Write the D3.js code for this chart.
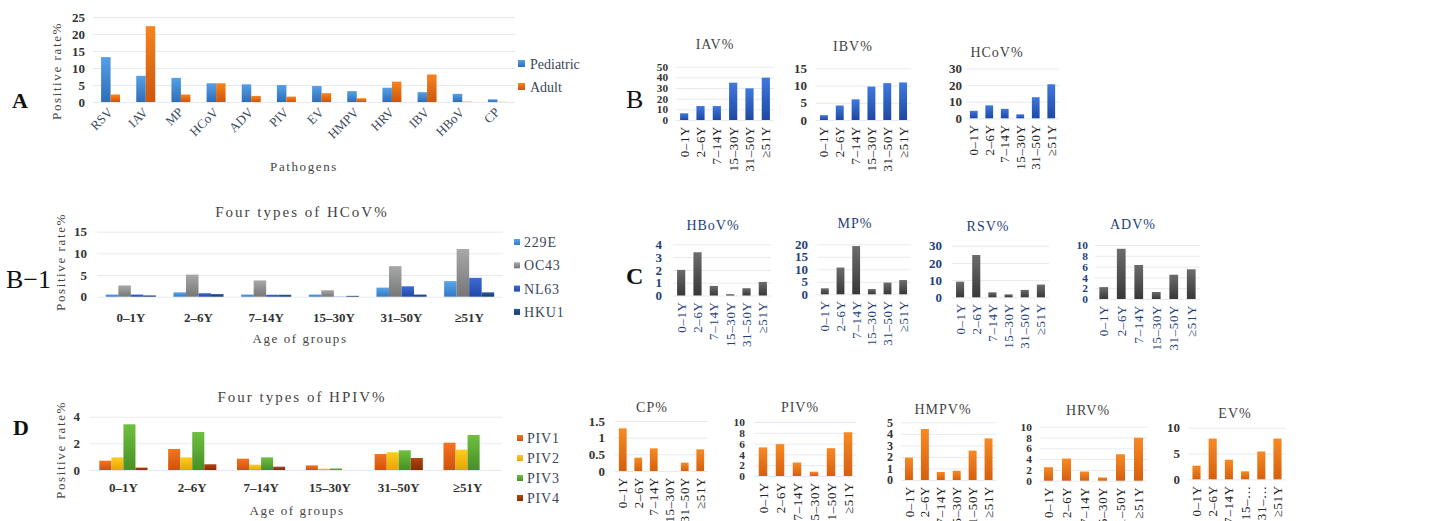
<!DOCTYPE html>
<html>
<head>
<meta charset="utf-8">
<script src="https://cdn.jsdelivr.net/npm/d3@7"></script>
<style>
  html, body { margin: 0; padding: 0; background: #fff; }
  svg { display: block; }
  text { font-family: "Liberation Serif", "DejaVu Serif", serif; }
</style>
</head>
<body>
<svg id="fig" width="1445" height="521"></svg>
<script>
// ---------- data ----------
const pathogens = ["RSV", "IAV", "MP", "HCoV", "ADV", "PIV", "EV", "HMPV", "HRV", "IBV", "HBoV", "CP"];
const pediatricRate = [13.2, 7.7, 7.1, 5.5, 5.2, 5.0, 4.7, 3.2, 4.2, 2.9, 2.4, 0.8];
const adultRate = [2.2, 22.3, 2.2, 5.5, 1.8, 1.6, 2.6, 1.1, 6.0, 8.1, 0.1, 0.05];
const rateTicksA = [0, 5, 10, 15, 20, 25];

const ageGroups = ["0–1Y", "2–6Y", "7–14Y", "15–30Y", "31–50Y", "≥51Y"];
const ageGroupsShort = ["0–1Y", "2–6Y", "7–14Y", "15–…", "31–…", "≥51Y"];

const hcovTypes = ["229E", "OC43", "NL63", "HKU1"];
const hcov229E = [0.5, 1.0, 0.5, 0.5, 2.1, 3.6];
const hcovOC43 = [2.6, 5.1, 3.75, 1.5, 7.05, 11.0];
const hcovNL63 = [0.5, 0.8, 0.45, 0.05, 2.4, 4.35];
const hcovHKU1 = [0.3, 0.6, 0.45, 0.2, 0.5, 1.0];
const hcovTypeTicks = [0, 5, 10, 15];

const hpivTypes = ["PIV1", "PIV2", "PIV3", "PIV4"];
const piv1 = [0.7, 1.58, 0.85, 0.35, 1.2, 2.05];
const piv2 = [0.95, 0.95, 0.4, 0.1, 1.33, 1.53];
const piv3 = [3.43, 2.85, 0.95, 0.12, 1.48, 2.63];
const piv4 = [0.18, 0.43, 0.25, 0, 0.9, 0];
const hpivTypeTicks = [0, 2, 4];

const iavByAge = [6.3, 13.1, 13.1, 35.0, 29.7, 39.7];
const ibvByAge = [1.4, 4.2, 6.0, 9.7, 10.7, 10.9];
const hcovByAge = [4.5, 7.8, 5.7, 2.4, 12.7, 20.5];
const hbovByAge = [2.0, 3.38, 0.75, 0.1, 0.57, 1.06];
const mpByAge = [2.4, 10.7, 19.3, 2.1, 4.7, 5.7];
const rsvByAge = [9.1, 24.6, 2.9, 1.7, 4.3, 7.4];
const advByAge = [2.2, 9.3, 6.3, 1.3, 4.5, 5.5];
const cpByAge = [1.28, 0.40, 0.68, 0, 0.25, 0.65];
const pivByAge = [5.3, 5.9, 2.5, 0.8, 5.15, 8.1];
const hmpvByAge = [1.94, 4.42, 0.7, 0.8, 2.55, 3.6];
const hrvByAge = [2.5, 4.1, 1.7, 0.6, 4.9, 7.96];
const evByAge = [2.65, 7.9, 3.8, 1.55, 5.4, 7.9];

const iavTicks = [0, 10, 20, 30, 40, 50];
const ibvTicks = [0, 5, 10, 15];
const hcovTicks = [0, 10, 20, 30];
const hbovTicks = [0, 1, 2, 3, 4];
const mpTicks = [0, 5, 10, 15, 20];
const rsvTicks = [0, 10, 20, 30];
const advTicks = [0, 2, 4, 6, 8, 10];
const cpTicks = [0, 0.5, 1, 1.5];
const pivTicks = [0, 2, 4, 6, 8, 10];
const hmpvTicks = [0, 1, 2, 3, 4, 5];
const hrvTicks = [0, 2, 4, 6, 8, 10];
const evTicks = [0, 5, 10];

// ---------- setup ----------
const svg = d3.select("#fig");
const defs = svg.append("defs");
const GRID = "#e6eaf0";

function gradient(id, top, bottom) {
  const g = defs.append("linearGradient").attr("id", id)
    .attr("x1", 0).attr("y1", 0).attr("x2", 0).attr("y2", 1);
  g.append("stop").attr("offset", "0%").attr("stop-color", top);
  g.append("stop").attr("offset", "100%").attr("stop-color", bottom);
  return `url(#${id})`;
}

const fills = {
  pediatric: gradient("gPed", "#55a0e8", "#2d6db6"),
  adult: gradient("gAdu", "#f7841f", "#cc560b"),
  e229: gradient("g229", "#5aa5ea", "#3279c6"),
  oc43: gradient("gOC", "#a8a8a8", "#767676"),
  nl63: gradient("gNL", "#3a6cd4", "#2248a8"),
  hku1: gradient("gHK", "#2a5b9e", "#15396e"),
  blue: gradient("gBlue", "#4078de", "#1d48a4"),
  gray: gradient("gGray", "#6c6c6c", "#383838"),
  orange: gradient("gOr", "#f68a24", "#d6600e"),
  piv1: gradient("gP1", "#f47422", "#d0520b"),
  piv2: gradient("gP2", "#ffcc22", "#e4a600"),
  piv3: gradient("gP3", "#70c040", "#469026"),
  piv4: gradient("gP4", "#b4450e", "#862c05")
};

function panelLetter(txt, x, y, opts = {}) {
  svg.append("text").attr("x", x).attr("y", y)
    .attr("font-size", opts.size || 24)
    .attr("font-weight", opts.weight || "normal")
    .attr("font-family", opts.family || null)
    .attr("fill", "#111").text(txt);
}

// y axis with gridlines drawn through d3.axisLeft
function yAxisGrid(g, y, ticks, x0, x1, labelRight, fmt, color) {
  const ax = d3.axisLeft(y).tickValues(ticks).tickSize(-(x1 - x0))
    .tickPadding(x0 - labelRight).tickFormat(fmt || d3.format("~g"));
  const a = g.append("g").attr("transform", `translate(${x0},0)`).call(ax);
  a.select(".domain").remove();
  a.selectAll(".tick line").attr("stroke", GRID).attr("stroke-width", 1);
  // keep crowded tick labels from running into each other
  const spacing = Math.abs(y(ticks[1]) - y(ticks[0]));
  const fs = Math.min(13, spacing + 0.6);
  a.selectAll(".tick text").attr("font-size", fs)
    .attr("font-family", "Liberation Serif").attr("font-weight", "bold").attr("fill", color);
}

// ---------- grouped bar chart ----------
function groupedChart(cfg) {
  const g = svg.append("g");
  const x = d3.scaleBand().domain(cfg.categories).range([cfg.x0, cfg.x1])
    .paddingInner(cfg.padIn).paddingOuter(cfg.padIn / 2);
  const xs = d3.scaleBand().domain(cfg.series.map(s => s.name)).range([0, x.bandwidth()]);
  const y = d3.scaleLinear().domain([0, cfg.max]).range([cfg.y0, cfg.yTop]);

  yAxisGrid(g, y, cfg.ticks, cfg.x0, cfg.x1, cfg.labelRight, null, "#333");

  cfg.series.forEach(s => {
    g.append("g").selectAll("rect").data(s.values).join("rect")
      .attr("x", (d, i) => x(cfg.categories[i]) + xs(s.name))
      .attr("width", xs.bandwidth())
      .attr("y", d => y(d))
      .attr("height", d => cfg.y0 - y(d))
      .attr("fill", s.fill);
  });

  // category labels
  const lab = g.append("g");
  cfg.categories.forEach(c => {
    const cx = x(c) + x.bandwidth() / 2;
    if (cfg.rotate) {
      lab.append("text")
        .attr("transform", `translate(${cx + 3},${cfg.y0 + 11}) rotate(-45)`)
        .attr("text-anchor", "end").attr("font-size", 13).attr("fill", "#3a4a5c")
        .text(c);
    } else {
      lab.append("text").attr("x", cx).attr("y", cfg.labelY)
        .attr("text-anchor", "middle").attr("font-size", 13).attr("font-weight", "bold")
        .attr("fill", "#333").text(c);
    }
  });

  // axis titles
  g.append("text")
    .attr("transform", `translate(${cfg.yTitleX},${cfg.yTitleY}) rotate(-90)`)
    .attr("text-anchor", "middle").attr("font-size", 13).attr("letter-spacing", 1.6)
    .attr("fill", "#444").text("Positive rate%");
  g.append("text").attr("x", cfg.xTitleX).attr("y", cfg.xTitleY)
    .attr("text-anchor", "middle").attr("font-size", 13).attr("letter-spacing", 1.6)
    .attr("fill", "#444").text(cfg.xTitle);
  if (cfg.title) {
    g.append("text").attr("x", cfg.titleX).attr("y", cfg.titleY)
      .attr("text-anchor", "middle").attr("font-size", 15).attr("letter-spacing", 2)
      .attr("fill", "#444").text(cfg.title);
  }

  // legend
  const leg = g.append("g");
  cfg.series.forEach((s, i) => {
    const ly = cfg.legY + i * cfg.legStep;
    leg.append("rect").attr("x", cfg.legX).attr("y", ly - cfg.legSq - 2)
      .attr("width", cfg.legSq).attr("height", cfg.legSq).attr("fill", s.fill);
    leg.append("text").attr("x", cfg.legX + cfg.legSq + cfg.legGap).attr("y", ly)
      .attr("font-size", cfg.legFont).attr("letter-spacing", cfg.legSpacing || 0)
      .attr("fill", "#3a4656").text(s.label || s.name);
  });
}

// ---------- small single-series chart ----------
function smallChart(cfg) {
  const g = svg.append("g");
  const x = d3.scaleBand().domain(d3.range(cfg.values.length)).range([cfg.x0, cfg.x1])
    .paddingInner(0.5).paddingOuter(0.25);
  const y = d3.scaleLinear().domain([0, cfg.max]).range([cfg.y0, cfg.yTop]);

  yAxisGrid(g, y, cfg.ticks, cfg.x0, cfg.x1, cfg.labelRight, cfg.fmt, cfg.tickColor);

  g.append("g").selectAll("rect").data(cfg.values).join("rect")
    .attr("x", (d, i) => x(i))
    .attr("width", x.bandwidth())
    .attr("y", d => y(d))
    .attr("height", d => cfg.y0 - y(d))
    .attr("fill", cfg.fill);

  g.append("g").selectAll("text").data(cfg.labels).join("text")
    .attr("transform", (d, i) => `translate(${x(i) + x.bandwidth() / 2},${cfg.y0 + 6}) rotate(-90)`)
    .attr("text-anchor", "end").attr("dy", "0.35em")
    .attr("font-size", 13).attr("letter-spacing", 0.6)
    .attr("fill", cfg.labelColor).text(d => d);

  g.append("text").attr("x", cfg.titleX).attr("y", cfg.titleY)
    .attr("text-anchor", "middle").attr("font-size", 14).attr("letter-spacing", 1)
    .attr("fill", cfg.titleColor).text(cfg.title);
}

// ---------- panel A ----------
panelLetter("A", 12, 108, { weight: "bold", size: 22 });
groupedChart({
  categories: pathogens,
  series: [
    { name: "Pediatric", values: pediatricRate, fill: fills.pediatric },
    { name: "Adult", values: adultRate, fill: fills.adult }
  ],
  x0: 93, x1: 515, padIn: 0.46, y0: 102, yTop: 17, max: 25, ticks: rateTicksA, labelRight: 85,
  rotate: true,
  yTitleX: 61, yTitleY: 71, xTitle: "Pathogens", xTitleX: 304, xTitleY: 171,
  legX: 518, legY: 69, legStep: 23, legSq: 7, legGap: 5, legFont: 14
});

// ---------- panel B-1 ----------
panelLetter("B−1", 6, 288, { size: 26 });
groupedChart({
  categories: ageGroups,
  series: [
    { name: "229E", values: hcov229E, fill: fills.e229 },
    { name: "OC43", values: hcovOC43, fill: fills.oc43 },
    { name: "NL63", values: hcovNL63, fill: fills.nl63 },
    { name: "HKU1", values: hcovHKU1, fill: fills.hku1 }
  ],
  x0: 97, x1: 503, padIn: 0.26, y0: 296.7, yTop: 231.7, max: 15, ticks: hcovTypeTicks, labelRight: 87,
  rotate: false, labelY: 322,
  yTitleX: 65, yTitleY: 262, xTitle: "Age of groups", xTitleX: 300, xTitleY: 343,
  title: "Four types of HCoV%", titleX: 302, titleY: 217,
  legX: 514, legY: 247, legStep: 23.3, legSq: 6, legGap: 4, legFont: 14, legSpacing: 0.8
});

// ---------- panel D ----------
panelLetter("D", 13, 435, { weight: "bold", size: 22 });
groupedChart({
  categories: ageGroups,
  series: [
    { name: "PIV1", values: piv1, fill: fills.piv1 },
    { name: "PIV2", values: piv2, fill: fills.piv2 },
    { name: "PIV3", values: piv3, fill: fills.piv3 },
    { name: "PIV4", values: piv4, fill: fills.piv4 }
  ],
  x0: 89, x1: 502, padIn: 0.30, y0: 470, yTop: 416.7, max: 4, ticks: hpivTypeTicks, labelRight: 80,
  rotate: false, labelY: 492,
  yTitleX: 65, yTitleY: 450, xTitle: "Age of groups", xTitleX: 297, xTitleY: 515,
  title: "Four types of HPIV%", titleX: 302, titleY: 402,
  legX: 517, legY: 443, legStep: 20, legSq: 6, legGap: 4, legFont: 14, legSpacing: 0.8
});

// ---------- panel B (blue) ----------
panelLetter("B", 626, 108, { size: 26 });
const blueStyle = { fill: fills.blue, tickColor: "#333", labelColor: "#222", titleColor: "#444", labels: ageGroups };
smallChart({ ...blueStyle, title: "IAV%", values: iavByAge, ticks: iavTicks, max: 50,
  x0: 676, x1: 774, y0: 120, yTop: 66.7, labelRight: 668, titleX: 715, titleY: 49 });
smallChart({ ...blueStyle, title: "IBV%", values: ibvByAge, ticks: ibvTicks, max: 15,
  x0: 816, x1: 911, y0: 120, yTop: 68.3, labelRight: 807, titleX: 853, titleY: 51 });
smallChart({ ...blueStyle, title: "HCoV%", values: hcovByAge, ticks: hcovTicks, max: 30,
  x0: 966, x1: 1059, y0: 118.3, yTop: 68.5, labelRight: 962, titleX: 997, titleY: 57 });

// ---------- panel C (gray) ----------
panelLetter("C", 626, 284, { size: 24, weight: "bold", family: "Liberation Sans" });
const grayStyle = { fill: fills.gray, tickColor: "#1f3f7a", labelColor: "#1f3f7a", titleColor: "#1f3f7a", labels: ageGroups };
smallChart({ ...grayStyle, title: "HBoV%", values: hbovByAge, ticks: hbovTicks, max: 4,
  x0: 673, x1: 771, y0: 295.5, yTop: 244.3, labelRight: 662, titleX: 713, titleY: 230 });
smallChart({ ...grayStyle, title: "MP%", values: mpByAge, ticks: mpTicks, max: 20,
  x0: 817, x1: 911, y0: 294.3, yTop: 244.3, labelRight: 808, titleX: 855, titleY: 228 });
smallChart({ ...grayStyle, title: "RSV%", values: rsvByAge, ticks: rsvTicks, max: 30,
  x0: 952, x1: 1049, y0: 297.3, yTop: 245.7, labelRight: 942, titleX: 988, titleY: 231 });
smallChart({ ...grayStyle, title: "ADV%", values: advByAge, ticks: advTicks, max: 10,
  x0: 1095, x1: 1200, y0: 299, yTop: 245, labelRight: 1088, titleX: 1133, titleY: 229 });

// ---------- bottom row (orange) ----------
const orangeStyle = { fill: fills.orange, tickColor: "#333", labelColor: "#222", titleColor: "#444" };
smallChart({ ...orangeStyle, title: "CP%", values: cpByAge, ticks: cpTicks, max: 1.5, labels: ageGroups,
  x0: 615, x1: 708, y0: 471, yTop: 421, labelRight: 605, titleX: 652, titleY: 412 });
smallChart({ ...orangeStyle, title: "PIV%", values: pivByAge, ticks: pivTicks, max: 10, labels: ageGroups,
  x0: 754.5, x1: 856.5, y0: 476, yTop: 422, labelRight: 745, titleX: 800, titleY: 412 });
smallChart({ ...orangeStyle, title: "HMPV%", values: hmpvByAge, ticks: hmpvTicks, max: 5, labels: ageGroups,
  x0: 901, x1: 996.5, y0: 480, yTop: 422.3, labelRight: 893, titleX: 943, titleY: 414 });
smallChart({ ...orangeStyle, title: "HRV%", values: hrvByAge, ticks: hrvTicks, max: 10, labels: ageGroups,
  x0: 1039.5, x1: 1147.5, y0: 480.7, yTop: 426.7, labelRight: 1032, titleX: 1088, titleY: 415 });
smallChart({ ...orangeStyle, title: "EV%", values: evByAge, ticks: evTicks, max: 10, labels: ageGroupsShort,
  x0: 1188.4, x1: 1285.6, y0: 479.3, yTop: 427.7, labelRight: 1180, titleX: 1235, titleY: 418 });
</script>
</body>
</html>
